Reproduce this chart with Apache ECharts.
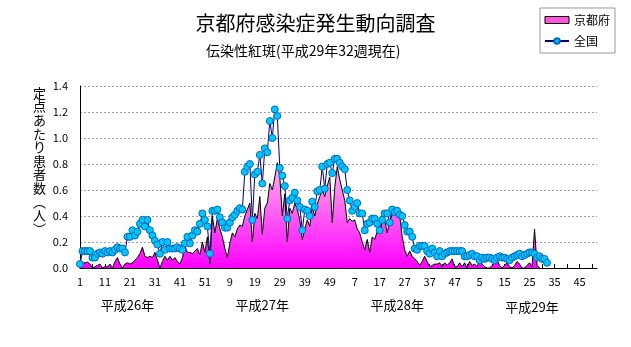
<!DOCTYPE html>
<html><head><meta charset="utf-8">
<script src="https://cdn.jsdelivr.net/npm/echarts@6/dist/echarts.min.js"></script>
<style>html,body{margin:0;padding:0;background:#fff}#c{width:631px;height:347px}</style>
</head><body><div id="c"></div>
<script>
// Years shown on the axis (weeks per year) and their names
const years = [2014, 2015, 2016, 2017];
const weeksPerYear = [52, 52, 52, 52];
const yearNames = ['平成26年', '平成27年', '平成28年', '平成29年'];
const yTickLabels = ['0.0','0.2','0.4','0.6','0.8','1.0','1.2','1.4'];
const titleText = '京都府感染症発生動向調査';
const subtitleText = '伝染性紅斑(平成29年32週現在)';
const yAxisName = '定点あたり患者数︵人︶';

// 京都府 (per sentinel), 2014 wk1 ... 2017 wk29
const kyoto = [
 0.02,0.04,0.04,0.045,0.03,0.0,0.01,0.02,0.03,0.0,0.01,0.01,0.03,0.0,0.05,0.08,0.03,0.0,0.03,0.04,
 0.03,0.04,0.06,0.08,0.11,0.16,0.09,0.08,0.09,0.08,0.12,0.06,0.0,0.05,0.09,0.06,0.09,0.06,0.08,0.05,
 0.03,0.08,0.17,0.12,0.12,0.11,0.13,0.15,0.10,0.20,0.12,0.24,
 0.03,0.40,0.27,0.38,0.30,0.24,0.15,0.08,0.19,0.27,0.24,0.30,0.33,0.32,0.40,0.45,0.50,0.20,0.42,0.38,
 0.55,0.26,0.46,0.50,0.65,0.60,0.70,0.81,0.70,0.40,0.57,0.20,0.46,0.42,0.50,0.45,0.37,0.22,0.30,0.37,
 0.32,0.47,0.40,0.49,0.55,0.60,0.55,0.63,0.70,0.35,0.62,0.78,
 0.68,0.60,0.52,0.35,0.38,0.36,0.37,0.30,0.27,0.20,0.14,0.22,0.12,0.24,0.22,0.28,0.27,0.36,0.37,0.27,
 0.36,0.41,0.44,0.44,0.41,0.24,0.14,0.09,0.13,0.09,0.07,0.05,0.02,0.05,0.09,0.05,0.01,0.02,0.03,0.03,
 0.04,0.01,0.04,0.02,0.04,0.07,0.01,0.01,0.04,0.01,0.04,0.0,
 0.05,0.02,0.03,0.01,0.06,0.03,0.01,0.0,0.0,0.02,0.04,0.06,0.02,0.0,0.02,0.04,0.01,0.0,0.02,0.05,
 0.03,0.0,0.0,0.02,0.04,0.01,0.30,0.02,0.0
];

// 全国 (per sentinel), 2014 wk1 ... 2017 wk32
const national = [
 0.03,0.13,0.13,0.13,0.13,0.08,0.08,0.11,0.12,0.11,0.13,0.12,0.13,0.12,0.14,0.16,0.15,0.15,0.12,0.24,
 0.24,0.29,0.25,0.28,0.34,0.37,0.32,0.37,0.29,0.25,0.21,0.18,0.11,0.20,0.14,0.20,0.15,0.15,0.15,0.16,
 0.15,0.14,0.19,0.24,0.19,0.25,0.29,0.28,0.34,0.42,0.37,0.32,
 0.11,0.44,0.44,0.45,0.39,0.35,0.31,0.31,0.35,0.39,0.41,0.44,0.46,0.45,0.74,0.78,0.80,0.37,0.72,0.74,
 0.87,0.65,0.92,0.89,1.13,1.00,1.22,1.17,0.77,0.71,0.63,0.38,0.52,0.54,0.58,0.52,0.47,0.29,0.45,0.44,
 0.40,0.51,0.47,0.59,0.60,0.78,0.61,0.80,0.81,0.73,0.84,0.84,
 0.81,0.78,0.76,0.60,0.52,0.44,0.47,0.50,0.42,0.42,0.29,0.34,0.35,0.38,0.38,0.34,0.29,0.37,0.42,0.42,
 0.35,0.45,0.43,0.44,0.41,0.40,0.33,0.28,0.28,0.24,0.15,0.14,0.17,0.17,0.17,0.13,0.11,0.15,0.12,0.09,
 0.13,0.09,0.11,0.12,0.13,0.13,0.13,0.13,0.13,0.13,0.09,0.09,
 0.10,0.11,0.09,0.09,0.06,0.08,0.07,0.08,0.08,0.07,0.06,0.08,0.09,0.08,0.08,0.07,0.06,0.08,0.09,0.10,
 0.11,0.09,0.10,0.11,0.12,0.12,0.11,0.08,0.09,0.07,0.07,0.04
];

const categories = [];
years.forEach((y, k) => { for (let w = 1; w <= weeksPerYear[k]; w++) categories.push(y + '-' + w); });

const font = '"Noto Sans CJK JP", sans-serif';
const chart = echarts.init(document.getElementById('c'), null, {renderer: 'canvas'});

// year label positions: centre category of each label
const yearLabelCats = [19, 73, 127, 181];

chart.setOption({
  animation: false,
  backgroundColor: '#fff',
  textStyle: {fontFamily: font},
  title: [
    {text: titleText, left: 'center', top: 8, textStyle: {fontSize: 20, fontWeight: 'normal', color: '#000', fontFamily: font}},
    {text: subtitleText, left: 201, top: 39, textStyle: {fontSize: 14, fontWeight: 'normal', color: '#000', fontFamily: font}}
  ],
  legend: {
    orient: 'vertical', right: 16, top: 8,
    borderColor: '#999', borderWidth: 1, padding: [6, 5, 6, 4], itemGap: 9,
    itemWidth: 24, itemHeight: 7,
    textStyle: {fontSize: 12, color: '#000', fontFamily: font},
    data: [
      {name: '京都府', icon: 'rect', itemStyle: {color: '#ff55dd', borderColor: '#000', borderWidth: 1}},
      {name: '全国'}
    ]
  },
  grid: {left: 80, right: 34, top: 86, bottom: 79, containLabel: false},
  xAxis: {
    type: 'category', data: categories, boundaryGap: false,
    axisLine: {lineStyle: {color: '#000', width: 1}},
    axisTick: {interval: 4, inside: true, length: 4, lineStyle: {color: '#000'}},
    axisLabel: {interval: 9, color: '#000', fontSize: 11, margin: 8, fontFamily: font,
      formatter: v => v.split('-')[1]},
    splitLine: {show: false}
  },
  yAxis: {
    type: 'value', min: 0, max: 1.4, interval: 0.2,
    axisLine: {show: true, lineStyle: {color: '#000', width: 1}},
    axisTick: {show: false},
    axisLabel: {color: '#000', fontSize: 11, margin: 12, fontFamily: font,
      formatter: v => yTickLabels[Math.round(v / 0.2)]},
    splitLine: {show: true, lineStyle: {color: '#a09aa8', type: [2, 2], width: 1}}
  },
  graphic: [
    {type: 'text', left: 33, top: 86, style: {text: yAxisName.split('').join('\n'), font: '13px ' + font, lineHeight: 13.6, fill: '#000', align: 'left'}}
  ].concat(yearNames.map((n, k) => ({
    type: 'text', x: 80 + (517 / 207) * yearLabelCats[k], y: 305 + (k === 3 ? 2 : 0),
    style: {text: n, font: '13px ' + font, fill: '#000', align: 'center', verticalAlign: 'middle'}
  }))),
  series: [
    {
      name: '京都府', type: 'line', data: kyoto, symbol: 'none', z: 2,
      lineStyle: {color: '#000', width: 1},
      itemStyle: {color: '#ff55dd'},
      areaStyle: {opacity: 1, color: new echarts.graphic.LinearGradient(0, 0, 0, 1, [
        {offset: 0, color: '#ffb8e8'}, {offset: 1, color: '#ff00ff'}])}
    },
    {
      name: '全国', type: 'line', data: national, symbol: 'circle', symbolSize: 7, z: 3,
      showSymbol: true, showAllSymbol: true,
      lineStyle: {color: '#000080', width: 1},
      itemStyle: {color: '#00c8ff', borderColor: '#0068c0', borderWidth: 1}
    }
  ]
});
</script></body></html>
